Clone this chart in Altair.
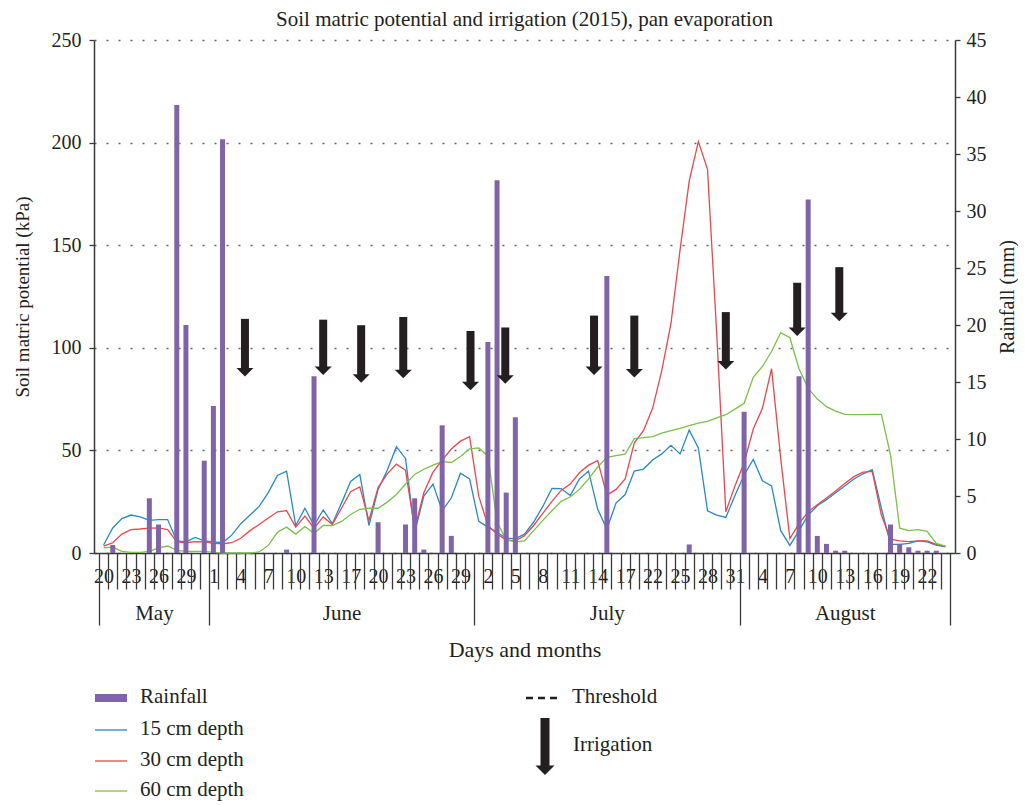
import altair as alt
import pandas as pd

# ---------------- categories (one per measured day) ----------------
may_days = [20, 21, 22, 23, 24, 25, 26, 27, 28, 29, 30, 31]
june_days = [1, 2, 3, 4, 5, 6, 7, 8, 9, 10, 11, 12, 13, 14, 15, 17, 18, 19, 20,
             21, 22, 23, 24, 25, 26, 27, 28, 29, 30]
july_days = [1, 2, 3, 4, 5, 6, 7, 8, 9, 10, 11, 12, 13, 14, 15, 16, 17, 20, 21,
             22, 23, 24, 25, 26, 27, 28, 29, 30, 31]
aug_days = [1, 3, 4, 5, 6, 7, 8, 9, 10, 11, 12, 13, 14, 15, 16, 17, 18, 19, 20,
            21, 22, 23, 24]
month_names = ["May", "June", "July", "August"]
days = may_days + june_days + july_days + aug_days

# ---------------- series ----------------
rainfall_mm = [0, 0.7, 0, 0, 0, 4.8, 2.5, 0, 39.3, 20.0, 0, 8.1, 12.9, 36.3, 0, 0,
               0, 0, 0, 0, 0.3, 0, 0, 15.5, 0, 0, 0, 0, 0, 0,
               2.7, 0, 0, 2.5, 4.8, 0.3, 0, 11.2, 1.5, 0, 0, 0, 18.5, 32.7, 5.3,
               11.9, 0, 0, 0, 0, 0, 0, 0, 0, 0, 24.3, 0, 0, 0, 0,
               0, 0, 0, 0, 0.75, 0, 0, 0, 0, 0, 12.4, 0, 0, 0, 0,
               0, 15.5, 31.0, 1.5, 0.8, 0.2, 0.2, 0, 0, 0, 0, 2.5, 0.8, 0.5, 0.2,
               0.2, 0.2, 0]
depth15 = [3.9, 12.2, 16.8, 18.5, 17.6, 15.9, 16.3, 16.3, 5.9, 5.4, 7.6, 5.9, 5.4,
           5.0, 8.7, 14.3, 18.5, 22.7, 29.4, 37.8, 39.9, 13.4, 21.8, 13.4, 21.0,
           14.3, 24.3, 34.9, 38.3, 13.4, 31.0, 40.3, 51.7, 46.1, 10.1, 27.7, 33.6,
           20.6, 26.8, 38.9, 36.1, 15.4, 12.6, 10.1, 7.2, 7.0, 9.2, 15.1, 22.7,
           31.5, 31.4, 28.0, 36.1, 39.9, 21.3, 11.7, 24.3, 28.5, 39.9, 40.9, 45.3,
           48.3, 52.5, 48.3, 59.9, 51.2, 20.6, 18.5, 17.3, 28.0, 38.0, 45.6, 35.2,
           32.7, 10.9, 3.7, 10.9, 18.5, 23.0, 26.0, 29.4, 32.7, 36.1, 38.6, 40.6,
           21.8, 4.2, 4.2, 4.7, 5.9, 5.4, 3.9, 3.0]
depth30 = [3.4, 5.0, 9.2, 11.4, 11.7, 12.1, 12.2, 11.4, 5.4, 5.0, 5.5, 5.4, 4.7,
           4.5, 5.0, 7.2, 10.9, 13.9, 17.1, 20.1, 20.6, 12.6, 18.0, 12.1, 17.6,
           13.9, 21.8, 29.9, 32.2, 15.9, 31.9, 38.6, 43.3, 40.3, 11.7, 29.4, 39.4,
           45.3, 50.7, 54.5, 56.7, 27.7, 13.4, 9.2, 6.4, 5.9, 8.4, 13.4, 19.3,
           25.2, 30.5, 33.6, 39.1, 42.8, 45.0, 28.2, 31.0, 36.1, 53.7, 59.6, 70.5,
           88.9, 111.6, 147.7, 181.2, 200.5, 187.0, 107.4, 20.1, 32.7, 44.0, 60.4,
           70.5, 89.8, 46.1, 7.0, 14.3, 20.1, 23.5, 26.8, 30.2, 33.9, 37.2, 39.4,
           39.8, 18.5, 6.7, 5.9, 5.5, 5.9, 5.9, 4.2, 3.4]
depth60 = [2.5, 2.9, 0.8, 0.3, 0.3, 0.8, 2.5, 3.4, 1.3, 0.8, 0.8, 0.8, 0.3, 0, 0,
           0, 0, 0.5, 3.7, 10.1, 12.6, 9.2, 12.9, 9.6, 13.4, 13.4, 15.4, 18.8,
           21.3, 21.8, 21.8, 24.8, 28.5, 33.6, 38.3, 40.8, 42.8, 44.5, 44.1, 47.0,
           50.8, 51.2, 47.3, 15.1, 6.4, 5.4, 5.9, 10.9, 15.9, 20.6, 25.2, 27.3,
           31.0, 36.1, 41.9, 46.6, 47.5, 48.2, 55.7, 56.2, 56.7, 58.4, 59.6, 60.7,
           62.1, 63.3, 64.1, 65.8, 67.4, 70.1, 73.0, 85.6, 90.9, 98.2, 107.4,
           104.9, 89.8, 80.2, 75.0, 71.3, 69.1, 67.6, 67.4, 67.4, 67.6, 67.6, 47.8,
           12.1, 10.9, 11.4, 10.6, 4.7, 3.4]

# irrigation events (category position, arrow top and tip in kPa units)
irr_pos = [15.45, 24.0, 28.15, 32.75, 40.1, 43.9, 53.6, 58.0, 68.0, 75.8, 80.4]
irr_top = [114.1, 113.7, 111.0, 115.0, 108.2, 109.9, 115.7, 115.7, 117.4, 131.7, 139.3]
irr_tip = [86.0, 86.7, 83.0, 85.2, 79.3, 82.5, 86.7, 85.5, 89.4, 105.7, 112.9]

kpa_ticks = [0, 50, 100, 150, 200, 250]
rain_ticks = [0, 5, 10, 15, 20, 25, 30, 35, 40, 45]
series_names = ["15 cm depth", "30 cm depth", "60 cm depth"]

# ---------------- styling ----------------
FONT = "Liberation Serif"
INK = "#231f20"
AXC = "#3a3a3a"
PURPLE = "#8064a8"
COLORS = ["#2a87c8", "#e8474c", "#7cbf4c"]

N = len(days)
idx = list(range(N))
month_lens = [len(may_days), len(june_days), len(july_days), len(aug_days)]
month_edges = [-0.5]
for L in month_lens:
    month_edges.append(month_edges[-1] + L)
month_centers = [(month_edges[i] + month_edges[i + 1]) / 2 for i in range(4)]
cat_edges = [i - 0.5 for i in range(N + 1)]
label_idx = list(range(0, N, 3))

rain_df = pd.DataFrame({"idx": idx, "rain": rainfall_mm})
rain_df = rain_df[rain_df["rain"] > 0]
lines_df = pd.DataFrame({"idx": idx, series_names[0]: depth15,
                         series_names[1]: depth30, series_names[2]: depth60})
lines_long = lines_df.melt("idx", var_name="series", value_name="kpa")
irr_df = pd.DataFrame({"pos": irr_pos, "top": irr_top, "tip": irr_tip})

xscale = alt.Scale(domain=[-0.5, N - 0.5], nice=False, zero=False)
kpa_scale = alt.Scale(domain=[0, 250], nice=False, zero=True)

day_expr = "[" + ",".join("'%d'" % d for d in days) + "][round(datum.value)]"
month_expr = ("[" + ",".join("'%s'" % m for m in month_names) + "][indexof(["
              + ",".join(str(c) for c in month_centers) + "], datum.value)]")
edge_test = "indexof([" + ",".join(str(e) for e in month_edges) + "], datum.value) >= 0"

lines = alt.Chart(lines_long).mark_line(strokeWidth=1.3).encode(
    x=alt.X("idx:Q", scale=xscale,
            axis=alt.Axis(orient="bottom", values=label_idx, labelExpr=day_expr,
                          tickSize=0, domain=False, grid=False, title=None,
                          labelPadding=13,
                          labelFont=FONT, labelFontSize=20, labelColor=INK,
                          labelFlush=False, labelOverlap=False)),
    y=alt.Y("kpa:Q", scale=kpa_scale,
            axis=alt.Axis(orient="left", values=kpa_ticks, grid=True,
                          gridDash=[2, 10], gridColor="#666666", gridWidth=1.5,
                          tickSize=5, tickColor=AXC, tickWidth=1.3,
                          domainColor=AXC, domainWidth=1.5,
                          labelFont=FONT, labelFontSize=20, labelColor=INK,
                          labelPadding=8,
                          title="Soil matric potential (kPa)", titleFont=FONT,
                          titleFontSize=19, titleFontWeight="normal",
                          titleColor=INK, titlePadding=19)),
    color=alt.Color("series:N", scale=alt.Scale(domain=series_names, range=COLORS),
                    legend=None),
)

bars = alt.Chart(rain_df).mark_bar(size=5, color=PURPLE).encode(
    x=alt.X("idx:Q", scale=xscale,
            axis=alt.Axis(orient="bottom", values=cat_edges, labels=False,
                          grid=False, title=None,
                          tickSize={"condition": {"test": edge_test, "value": 72},
                                    "value": 36},
                          tickColor=AXC, tickWidth=1.3, domainColor=AXC,
                          domainWidth=1.5)),
    y=alt.Y("rain:Q", scale=alt.Scale(domain=[0, 45], nice=False),
            axis=alt.Axis(orient="right", values=rain_ticks, grid=False,
                          tickSize=5, tickColor=AXC, tickWidth=1.3,
                          domainColor=AXC, domainWidth=1.5,
                          labelFont=FONT, labelFontSize=20, labelColor=INK,
                          labelPadding=6,
                          title="Rainfall (mm)", titleFont=FONT, titleFontSize=20,
                          titleFontWeight="normal", titleColor=INK,
                          titleAngle=270, titleBaseline="top", titlePadding=11)),
)

shafts = alt.Chart(irr_df).transform_calculate(
    base="datum.tip + 3.5"
).mark_rule(strokeWidth=8, color=INK).encode(
    x=alt.X("pos:Q", scale=xscale,
            axis=alt.Axis(orient="bottom", values=month_centers,
                          labelExpr=month_expr, tickSize=0,
                          domain=False, grid=False, labelPadding=49,
                          labelFont=FONT, labelFontSize=21, labelColor=INK,
                          labelFlush=False,
                          title="Days and months", titleFont=FONT,
                          titleFontSize=22, titleFontWeight="normal",
                          titleColor=INK, titlePadding=16)),
    y=alt.Y("top:Q", scale=kpa_scale, axis=None),
    y2="base:Q",
)

heads = alt.Chart(irr_df).mark_point(
    shape="M-1,-1L1,-1L0,0Z", filled=True, size=289, color=INK, opacity=1,
    strokeWidth=0
).encode(
    x=alt.X("pos:Q", scale=xscale, axis=None),
    y=alt.Y("tip:Q", scale=kpa_scale, axis=None),
)

# ---------------- manual legend ----------------
def leg_text(t, x, y):
    return alt.Chart(pd.DataFrame({"t": [t]})).mark_text(
        align="left", baseline="middle", font=FONT, fontSize=21, color=INK
    ).encode(x=alt.value(x), y=alt.value(y), text="t:N")

def leg_line(color, x1, x2, y, width=1.3, dash=None):
    kw = dict(color=color, strokeWidth=width)
    if dash:
        kw["strokeDash"] = dash
    return alt.Chart(pd.DataFrame({"a": [0]})).mark_rule(**kw).encode(
        x=alt.value(x1), x2=alt.value(x2), y=alt.value(y))

legend_layers = [
    alt.Chart(pd.DataFrame({"a": [0]})).mark_rect(color=PURPLE).encode(
        x=alt.value(1), x2=alt.value(33), y=alt.value(654), y2=alt.value(662)),
    leg_text("Rainfall", 46, 657),
    leg_line(COLORS[0], 1, 33, 690),
    leg_text(series_names[0], 46, 689),
    leg_line(COLORS[1], 1, 33, 721),
    leg_text(series_names[1], 46, 720),
    leg_line(COLORS[2], 1, 33, 751),
    leg_text(series_names[2], 46, 750),
    leg_line(INK, 432, 467, 658, width=2.5, dash=[7, 5]),
    leg_text("Threshold", 478, 657),
    alt.Chart(pd.DataFrame({"a": [0]})).mark_rule(color=INK, strokeWidth=9).encode(
        x=alt.value(451), y=alt.value(678), y2=alt.value(727)),
    alt.Chart(pd.DataFrame({"a": [0]})).mark_point(
        shape="M-1,-1L1,-1L0,0Z", filled=True, size=361, color=INK, opacity=1,
        strokeWidth=0).encode(x=alt.value(451), y=alt.value(735)),
    leg_text("Irrigation", 479, 705),
]

chart = alt.layer(lines, bars, shafts, heads, *legend_layers).resolve_scale(
    y="independent"
).resolve_axis(
    x="independent"
).properties(
    width=861, height=513,
    title=alt.TitleParams("Soil matric potential and irrigation (2015), pan evaporation",
                          font=FONT, fontSize=21, fontWeight="normal", color=INK,
                          anchor="middle", offset=0),
    autosize=alt.AutoSizeParams(type="none"),
    padding={"left": 86, "top": 32, "right": 63, "bottom": 252},
).configure_view(strokeWidth=0)

chart.save("out.html", embed_options={"renderer": "svg", "actions": False})
